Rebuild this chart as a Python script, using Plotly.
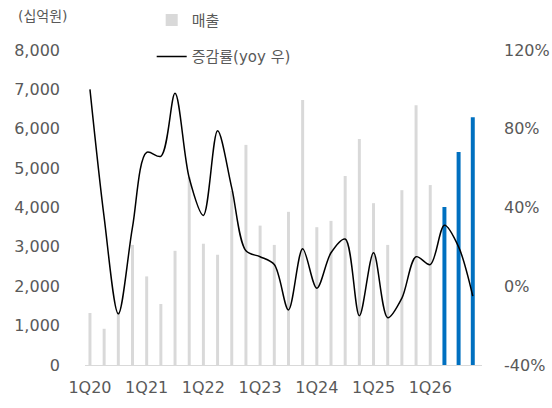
import plotly.graph_objects as go

# Quarterly labels 1Q20 .. 4Q26
quarters = [f"{q}Q{y}" for y in range(20, 27) for q in range(1, 5)]

# Revenue (십억원): actual quarters, then forecast quarters
sales_actual = [1320, 920, 1320, 3050, 2250, 1550, 2900, 4770, 3080, 2800,
                4420, 5590, 3540, 3050, 3890, 6730, 3500, 3660, 4800, 5740,
                4110, 3050, 4440, 6600, 4570]
sales_forecast = [4010, 5410, 6290]

# YoY growth (%), right axis
yoy = [100, 35, -14, 30, 68, 66, 98, 55, 36, 79, 50, 18, 15, 11, -12, 19,
       -1, 17, 24, -15, 17, -16, -6, 15, 11, 31, 20, -5]

tick_quarters = [q for q in quarters if q.startswith("1Q")]
pct_ticks = [-40, 0, 40, 80, 120]
pct_text = [f"{v}%" for v in pct_ticks]

FONT = "DejaVu Sans, Noto Sans CJK KR, sans-serif"
GREY_TXT = "#595959"

fig = go.Figure()

fig.add_trace(go.Bar(
    x=quarters[:len(sales_actual)], y=sales_actual, name="매출",
    marker=dict(color="#d9d9d9", line=dict(width=0)),
    width=0.21, legendgroup="a",
))
fig.add_trace(go.Bar(
    x=quarters[len(sales_actual):], y=sales_forecast, name="매출(E)",
    marker=dict(color="#0070c0", line=dict(width=0)),
    width=0.28, showlegend=False,
))
fig.add_trace(go.Scatter(
    x=quarters, y=yoy, name="증감률(yoy 우)", yaxis="y2",
    mode="lines", line=dict(color="#000000", width=1.5, shape="spline", smoothing=0.9),
    legendgroup="b",
))

fig.update_layout(
    width=552, height=408,
    margin=dict(l=85, r=70, t=50, b=43, autoexpand=False),
    paper_bgcolor="white", plot_bgcolor="white",
    barmode="overlay",
    font=dict(family=FONT, size=16, color=GREY_TXT),
    showlegend=True,
    legend=dict(
        x=0.168, xanchor="left", y=1.147, yanchor="top",
        orientation="v", traceorder="grouped", tracegroupgap=14,
        font=dict(size=15, color=GREY_TXT), bgcolor="rgba(0,0,0,0)",
    ),
    xaxis=dict(
        type="category", categoryorder="array", categoryarray=quarters,
        range=[-0.35, 27.65], automargin=False,
        tickmode="array", tickvals=tick_quarters, ticktext=tick_quarters,
        showline=True, linecolor="#d9d9d9", linewidth=1,
        showgrid=False, ticks="", ticklabelstandoff=8,
        tickfont=dict(size=16, color=GREY_TXT),
    ),
    yaxis=dict(
        range=[0, 8000], dtick=1000, tickformat=",", automargin=False,
        showgrid=False, zeroline=False, showline=False, ticks="",
        ticklabelstandoff=24, tickfont=dict(size=16, color=GREY_TXT),
    ),
    yaxis2=dict(
        overlaying="y", side="right", automargin=False,
        range=[-40, 120], tickmode="array", tickvals=pct_ticks, ticktext=pct_text,
        showgrid=False, zeroline=False, showline=False, ticks="",
        ticklabelstandoff=21, tickfont=dict(size=16, color=GREY_TXT),
    ),
    annotations=[dict(
        text="(십억원)", xref="paper", yref="paper",
        x=-0.175, y=1.108, xanchor="left", yanchor="middle",
        showarrow=False, font=dict(size=14, color=GREY_TXT),
    )],
)

fig.write_html("out.html")
